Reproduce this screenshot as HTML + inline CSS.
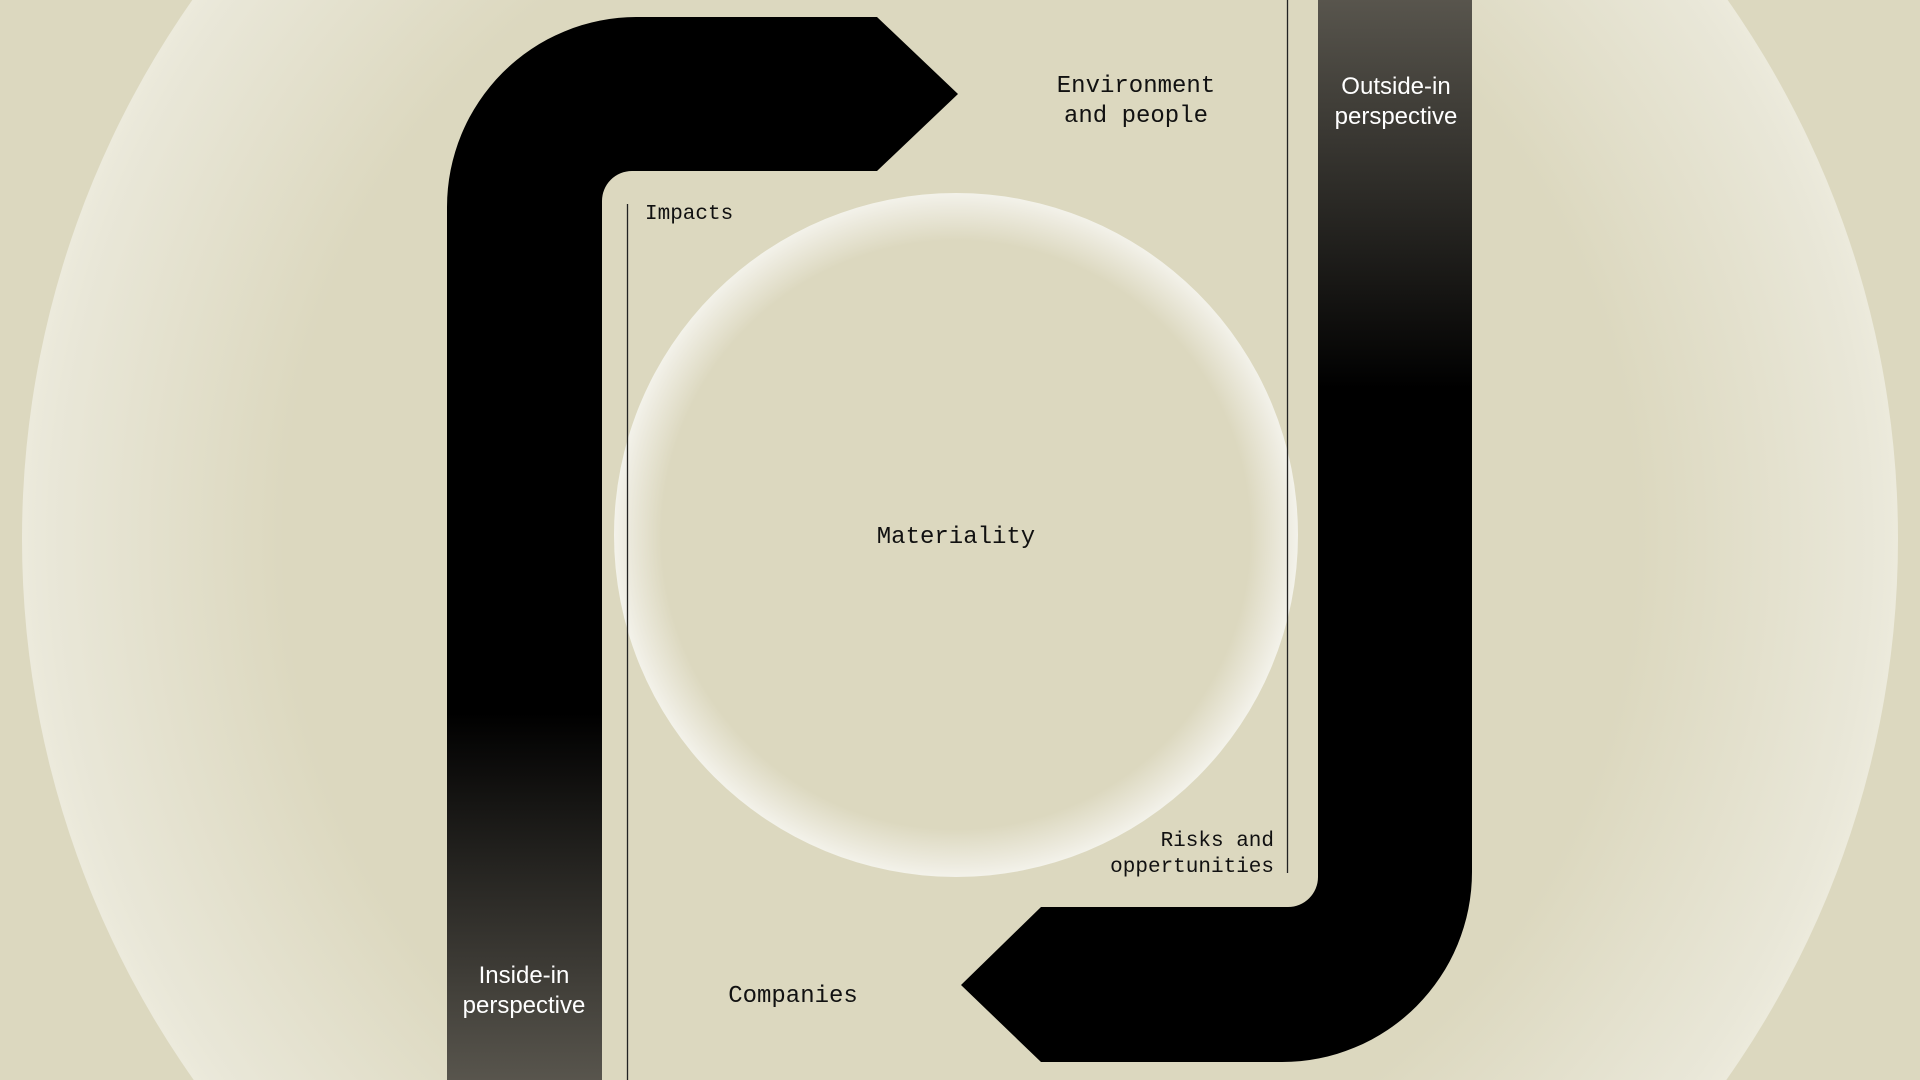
<!DOCTYPE html>
<html><head><meta charset="utf-8"><style>
html,body{margin:0;padding:0;background:#dcd8bf;width:1920px;height:1080px;overflow:hidden;}
svg{display:block}
.m{font-family:"Liberation Mono",monospace;fill:#111;}
.s{font-family:"Liberation Sans",sans-serif;fill:#fff;}
</style></head><body>
<svg width="1920" height="1080" viewBox="0 0 1920 1080" xmlns="http://www.w3.org/2000/svg">
<defs>
<radialGradient id="big" cx="960" cy="539" r="938" gradientUnits="userSpaceOnUse">
<stop offset="0" stop-color="#dcd8bf"/>
<stop offset="0.72" stop-color="#dcd8bf"/>
<stop offset="0.97" stop-color="#e9e7d8"/>
<stop offset="1" stop-color="#eceadc"/>
</radialGradient>
<radialGradient id="mid" cx="956" cy="535" r="342" gradientUnits="userSpaceOnUse">
<stop offset="0" stop-color="#dcd8bf"/>
<stop offset="0.86" stop-color="#dcd8bf"/>
<stop offset="0.97" stop-color="#eeece1"/>
<stop offset="1" stop-color="#f3f2ea"/>
</radialGradient>
<linearGradient id="lg" x1="0" y1="0" x2="0" y2="1080" gradientUnits="userSpaceOnUse">
<stop offset="0" stop-color="#000"/>
<stop offset="0.66" stop-color="#000"/>
<stop offset="1" stop-color="#58554d"/>
</linearGradient>
<linearGradient id="rg" x1="0" y1="0" x2="0" y2="1080" gradientUnits="userSpaceOnUse">
<stop offset="0" stop-color="#58554d"/>
<stop offset="0.36" stop-color="#000"/>
<stop offset="1" stop-color="#000"/>
</linearGradient>
</defs>
<rect width="1920" height="1080" fill="#dcd8bf"/>
<circle cx="960" cy="539" r="938" fill="url(#big)"/>
<circle cx="956" cy="535" r="342" fill="url(#mid)"/>
<path d="M447,1080 L447,207 A190,190 0 0 1 637,17 L877,17 L958,94 L877,171 L632,171 A30,30 0 0 0 602,201 L602,1080 Z" fill="url(#lg)"/>
<path d="M1318,0 L1472,0 L1472,872 A190,190 0 0 1 1282,1062 L1041,1062 L961,985 L1041,907 L1288,907 A30,30 0 0 0 1318,877 Z" fill="url(#rg)"/>
<line x1="627.5" y1="204" x2="627.5" y2="1080" stroke="#222" stroke-width="1.3"/>
<line x1="1287.5" y1="0" x2="1287.5" y2="873" stroke="#222" stroke-width="1.3"/>
<text class="m" x="1136" y="92" font-size="24" text-anchor="middle">Environment</text>
<text class="m" x="1136" y="122" font-size="24" text-anchor="middle">and people</text>
<text class="m" x="645" y="219" font-size="21">Impacts</text>
<text class="m" x="956" y="543" font-size="24" text-anchor="middle">Materiality</text>
<text class="m" x="1274" y="846" font-size="21" text-anchor="end">Risks and</text>
<text class="m" x="1274" y="872" font-size="21" text-anchor="end">oppertunities</text>
<text class="m" x="793" y="1002" font-size="24" text-anchor="middle">Companies</text>
<text class="s" x="1396" y="94" font-size="24" text-anchor="middle">Outside-in</text>
<text class="s" x="1396" y="124" font-size="24" text-anchor="middle">perspective</text>
<text class="s" x="524" y="983" font-size="24" text-anchor="middle">Inside-in</text>
<text class="s" x="524" y="1013" font-size="24" text-anchor="middle">perspective</text>
</svg>
</body></html>
